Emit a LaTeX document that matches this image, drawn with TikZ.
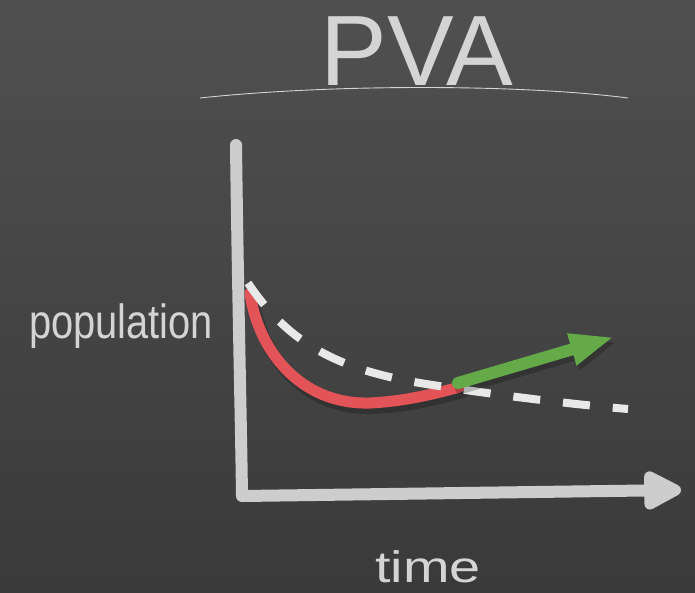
\documentclass[tikz,border=0pt]{standalone}
\usepackage{fontspec}
\setmainfont{Liberation Sans}
\usetikzlibrary{arrows.meta}
\definecolor{bgtop}{RGB}{80,80,80}
\definecolor{bgmid}{RGB}{84,84,84}
\definecolor{bgbot}{RGB}{58,58,58}
\definecolor{chalk}{RGB}{205,205,205}
\definecolor{chalktext}{RGB}{212,212,212}
\definecolor{dashwhite}{RGB}{232,232,232}
\definecolor{redcurve}{RGB}{226,84,88}
\definecolor{greenarrow}{RGB}{100,170,72}
\tikzset{
  axisline/.style={draw=chalk, line width=12pt, line cap=round, line join=round},
  shadowline/.style={draw=black, opacity=0.22, line cap=round},
  handtext/.style={text=chalktext, inner sep=0pt},
}
\begin{document}
\begin{tikzpicture}[x=1pt,y=-1pt]
\useasboundingbox (0,0) rectangle (695,592);
\shade[top color=bgtop, middle color=bgmid, bottom color=bgbot] (0,0) rectangle (695,592);

% title
\node[handtext, anchor=base, font=\fontsize{100}{100}\selectfont] (title) at (417,85) {PVA};
\coordinate (ulL) at (200,98);
\coordinate (ulR) at (628,98);
\draw[draw=chalktext, line width=0.9pt] (ulL) .. controls (330,84) and (520,84) .. (ulR);

% axis labels
\node[handtext, anchor=base, font=\fontsize{48}{48}\selectfont] (ylab) at (121,338) {\scalebox{0.83}[1]{population}};
\node[handtext, anchor=base, font=\fontsize{44}{44}\selectfont] (xlab) at (428,582) {\scalebox{1.27}[1]{time}};

% axes
\coordinate (ytop) at (236,145);
\coordinate (origin) at (242,496);
\coordinate (xend) at (681,490);
\draw[axisline, -{Triangle[length=44pt,width=42pt,round]}]
  (ytop) .. controls (238,300) and (241,420) .. (origin) -- (xend);

% red curve (shadow + line)
\coordinate (rstart) at (250,293);
\coordinate (rmid) at (370,403);
\coordinate (rend) at (460,387);
\draw[shadowline, line width=12pt] ([shift={(3,5)}]rstart) .. controls (261,355) and (303,410) .. ([shift={(3,5)}]rmid) .. controls (413,406) and (443,397) .. ([shift={(3,5)}]rend);
\draw[draw=redcurve, line width=11pt, line cap=round] (rstart) .. controls (258,350) and (300,405) .. (rmid) .. controls (410,401) and (440,392) .. (rend);

% dashed projection
\coordinate (dstart) at (248,283);
\coordinate (dmid) at (420,383);
\coordinate (dend) at (628,409);
\draw[draw=dashwhite, line width=8pt, dash pattern=on 27pt off 23pt] (dstart) .. controls (285,338) and (330,368) .. (dmid) .. controls (500,396) and (580,405) .. (dend);

% green arrow
\coordinate (gstart) at (458,383);
\coordinate (gend) at (614,337);
\draw[shadowline, line width=12pt, -{Triangle[length=44pt,width=30pt]}] ([shift={(3,5)}]gstart) -- ([shift={(3,5)}]gend);
\draw[draw=greenarrow, fill=greenarrow, line width=12pt, line cap=round, -{Triangle[length=44pt,width=30pt]}] (gstart) -- (gend);
\end{tikzpicture}
\end{document}
